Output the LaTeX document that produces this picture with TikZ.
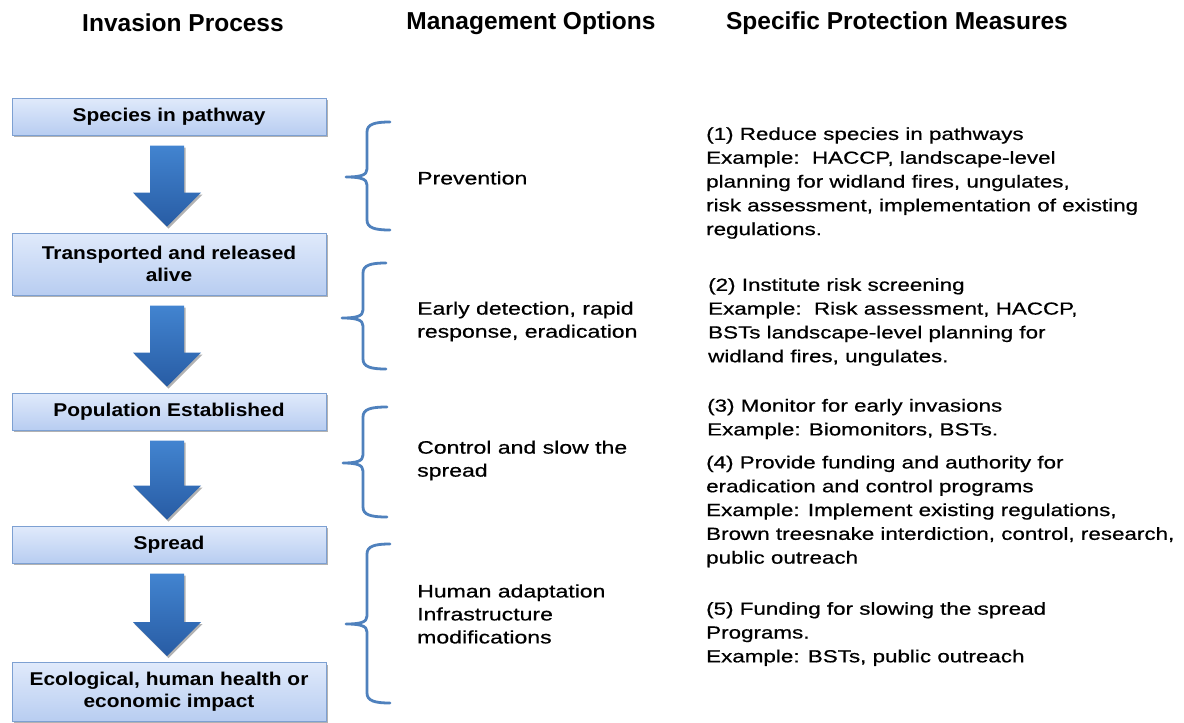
\documentclass[tikz,border=0pt]{standalone}
\usepackage{fontspec}
\setmainfont{Liberation Sans}
\newfontfamily\headfont{Liberation Sans}
\newfontfamily\boxfont{Liberation Sans}[FakeStretch=1.13]
\newfontfamily\bodyfont{Liberation Sans}[FakeStretch=1.28, FakeBold=0.6]
\usetikzlibrary{shadows,calc}
\definecolor{boxtop}{RGB}{224,234,251}
\definecolor{boxbot}{RGB}{184,205,241}
\definecolor{boxborder}{RGB}{125,160,210}
\definecolor{arrtop}{RGB}{66,132,208}
\definecolor{arrbot}{RGB}{40,92,164}
\definecolor{bracecol}{RGB}{79,129,189}
\tikzset{
  headtext/.style={font=\headfont\bfseries\fontsize{24.5}{28}\selectfont, inner sep=0pt},
  procbox/.style={draw=boxborder, line width=1pt, top color=boxtop, bottom color=boxbot,
    minimum width=314pt, inner sep=0pt, align=center,
    font=\boxfont\bfseries\fontsize{18.5}{22}\selectfont,
    drop shadow={shadow xshift=1.5pt, shadow yshift=-2pt, opacity=0.3, fill=black}},
  blockarrow/.style={top color=arrtop, bottom color=arrbot, draw=none,
    drop shadow={shadow xshift=1.5pt, shadow yshift=-2pt, opacity=0.3, fill=black}},
  mgmt/.style={anchor=west, align=left, inner sep=0pt, font=\bodyfont\fontsize{18}{23}\selectfont},
  meas/.style={anchor=west, align=left, inner sep=0pt, font=\bodyfont\fontsize{17.5}{23.8}\selectfont},
  bracestyle/.style={draw=bracecol, line width=2.8pt, line cap=round, line join=round}
}
\newcommand\flowarrow[2]{%
  \path[blockarrow] ($(#1.south)+(-19,10)$) -- ($(#2.north)+(-19,-40)$) -- ($(#2.north)+(-36,-40)$)
    -- ($(#2.north)+(-2,-6)$) -- ($(#2.north)+(32,-40)$) -- ($(#2.north)+(15,-40)$)
    -- ($(#1.south)+(15,10)$) -- cycle;}
\newcommand\mybrace[6]{% xv, xtip, ytop, ymid, ybot, xend
  \draw[bracestyle] (#6,#3) .. controls (#1+8,#3) and (#1,#3+2) .. (#1,#3+10)
    -- (#1,#4-8) .. controls (#1,#4-2) and (#1-6,#4) .. (#2,#4)
    .. controls (#1-6,#4) and (#1,#4+2) .. (#1,#4+8)
    -- (#1,#5-10) .. controls (#1,#5-2) and (#1+8,#5) .. (#6,#5);}
\begin{document}
\begin{tikzpicture}[x=1pt,y=-1pt]
\useasboundingbox (0,0) rectangle (1184,723);
\fill[white] (0,0) rectangle (1184,723);
% headers
\node[headtext] (h1) at (183,23) {Invasion Process};
\node[headtext] (h2) at (531,23) {Management Options};
\node[headtext] (h3) at (897,23) {Specific Protection Measures};
% process boxes
\node[procbox, minimum height=37pt] (b1) at (169,116.5) {Species in pathway};
\node[procbox, minimum height=62pt] (b2) at (169,264) {Transported and released\\alive};
\node[procbox, minimum height=37pt] (b3) at (169,411.5) {Population Established};
\node[procbox, minimum height=37pt] (b4) at (169,544.5) {Spread};
\node[procbox, minimum height=59pt] (b5) at (169,692) {Ecological, human health or\\economic impact};
\flowarrow{b1}{b2}
\flowarrow{b2}{b3}
\flowarrow{b3}{b4}
\flowarrow{b4}{b5}
% braces
\mybrace{367}{346}{122}{177}{230}{390}
\mybrace{363}{342}{263}{318}{369}{386}
\mybrace{363}{343}{407}{463}{517}{387}
\mybrace{367}{346}{544}{624}{703}{390}
% management options
\node[mgmt] (m1) at (417,178) {Prevention};
\node[mgmt] (m2) at (417,321.5) {Early detection, rapid\\response, eradication};
\node[mgmt] (m3) at (417,460.5) {Control and slow the\\spread};
\node[mgmt] (m4) at (417,614) {Human adaptation\\Infrastructure\\modifications};
% measures
\node[meas] (s1) at (706,183) {(1) Reduce species in pathways\\Example:\ \ HACCP, landscape-level\\planning for widland fires, ungulates,\\risk assessment, implementation of existing\\regulations.};
\node[meas] (s2) at (708,322) {(2) Institute risk screening\\Example:\ \ Risk assessment, HACCP,\\BSTs landscape-level planning for\\widland fires, ungulates.};
\node[meas] (s3) at (707,419) {(3) Monitor for early invasions\\Example: Biomonitors, BSTs.};
\node[meas] (s4) at (706,511.5) {(4) Provide funding and authority for\\eradication and control programs\\Example: Implement existing regulations,\\Brown treesnake interdiction, control, research,\\public outreach};
\node[meas] (s5) at (706,634) {(5) Funding for slowing the spread\\Programs.\\Example: BSTs, public outreach};
\end{tikzpicture}
\end{document}
